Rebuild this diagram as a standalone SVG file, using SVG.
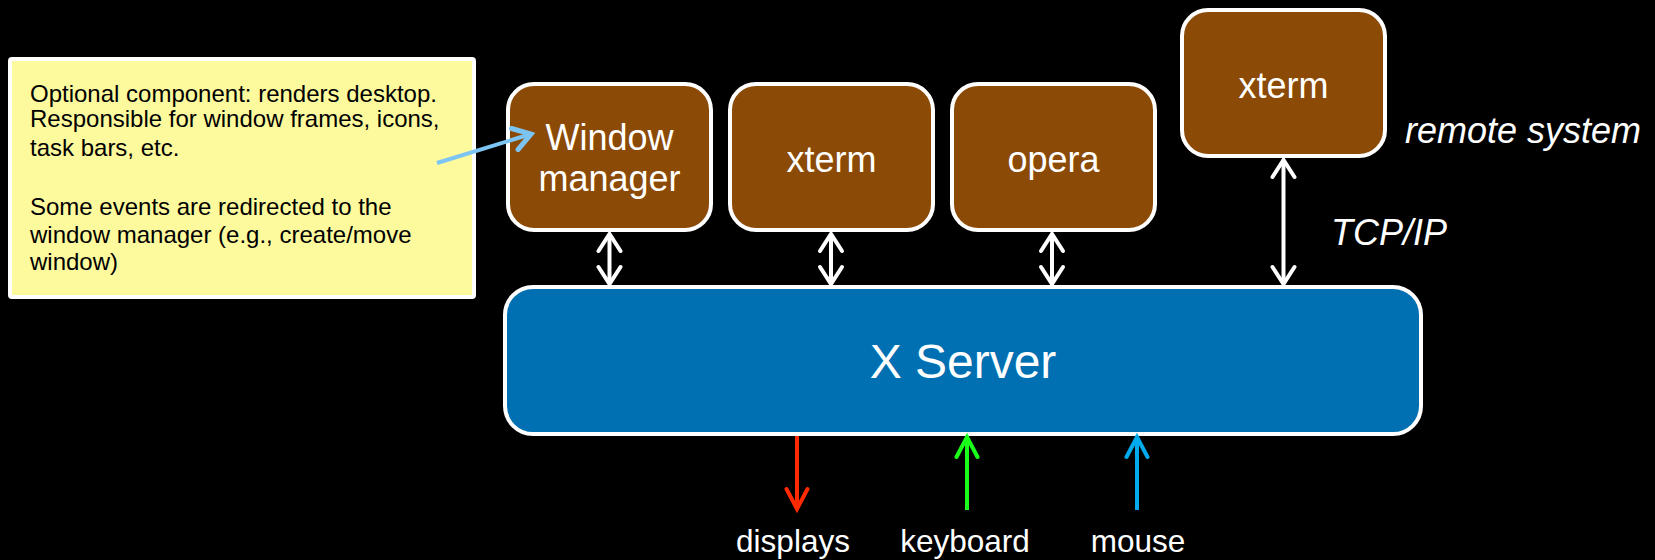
<svg xmlns="http://www.w3.org/2000/svg" width="1655" height="560" viewBox="0 0 1655 560">
  <style>
    text { font-family: "Liberation Sans", Arial, sans-serif; fill: #ffffff; }
    .box { fill: #8c4a07; stroke: #ffffff; stroke-width: 4; }
    .server { fill: #0070b2; stroke: #ffffff; stroke-width: 4; }
    .note { fill: #fdfa9e; stroke: #ffffff; stroke-width: 4; }
    .note-text { fill: #000000; font-size: 24px; }
    .label { font-size: 36px; text-anchor: middle; }
    .io { font-size: 31.5px; text-anchor: middle; }
    .ital { font-size: 36px; font-style: italic; }
    .link { fill: none; stroke-width: 4; }
  </style>
  <defs>
    <marker id="head-white" markerUnits="userSpaceOnUse" viewBox="-24 -14 28 28" refX="0" refY="0" markerWidth="28" markerHeight="28" orient="auto-start-reverse">
      <path d="M-17,-11 L0,0 L-17,11" fill="none" stroke="#ffffff" stroke-width="4" stroke-linecap="round"/>
    </marker>
    <marker id="head-red" markerUnits="userSpaceOnUse" viewBox="-24 -14 28 28" refX="0" refY="0" markerWidth="28" markerHeight="28" orient="auto">
      <path d="M-20,-10.5 L0,0 L-20,10.5" fill="none" stroke="#ff2a00" stroke-width="4" stroke-linecap="round"/>
    </marker>
    <marker id="head-green" markerUnits="userSpaceOnUse" viewBox="-24 -14 28 28" refX="0" refY="0" markerWidth="28" markerHeight="28" orient="auto">
      <path d="M-20,-10.5 L0,0 L-20,10.5" fill="none" stroke="#1aff1a" stroke-width="4" stroke-linecap="round"/>
    </marker>
    <marker id="head-cyan" markerUnits="userSpaceOnUse" viewBox="-24 -14 28 28" refX="0" refY="0" markerWidth="28" markerHeight="28" orient="auto">
      <path d="M-20,-10.5 L0,0 L-20,10.5" fill="none" stroke="#00aaef" stroke-width="4" stroke-linecap="round"/>
    </marker>
    <marker id="head-callout" markerUnits="userSpaceOnUse" viewBox="-24 -14 28 28" refX="0" refY="0" markerWidth="28" markerHeight="28" orient="auto">
      <path d="M-17,-11 L0,0 L-17,11" fill="none" stroke="#7cc5f2" stroke-width="5" stroke-linecap="round"/>
    </marker>
  </defs>

  <rect width="1655" height="560" fill="#000000"/>

  <!-- explanatory note -->
  <g id="note">
    <rect class="note" x="10" y="59" width="464" height="238" rx="2"/>
    <text class="note-text" x="30" y="101.5">Optional component: renders desktop.</text>
    <text class="note-text" x="30" y="126.5">Responsible for window frames, icons,</text>
    <text class="note-text" x="30" y="156">task bars, etc.</text>
    <text class="note-text" x="30" y="215">Some events are redirected to the</text>
    <text class="note-text" x="30" y="242.5">window manager (e.g., create/move</text>
    <text class="note-text" x="30" y="270">window)</text>
  </g>

  <!-- client boxes -->
  <g id="window-manager">
    <rect class="box" x="508" y="84" width="203" height="146" rx="26"/>
    <text class="label" x="609.5" y="150">Window</text>
    <text class="label" x="609.5" y="190.5">manager</text>
  </g>
  <g id="xterm-local">
    <rect class="box" x="730" y="84" width="203" height="146" rx="26"/>
    <text class="label" x="831.5" y="171.5">xterm</text>
  </g>
  <g id="opera">
    <rect class="box" x="952" y="84" width="203" height="146" rx="26"/>
    <text class="label" x="1053.5" y="171.5">opera</text>
  </g>
  <g id="xterm-remote">
    <rect class="box" x="1182" y="10" width="203" height="146" rx="26"/>
    <text class="label" x="1283.5" y="98">xterm</text>
    <text class="ital" x="1405" y="143">remote system</text>
  </g>

  <!-- server -->
  <g id="x-server">
    <rect class="server" x="505" y="287" width="916" height="147" rx="28"/>
    <text x="963" y="378" font-size="48" text-anchor="middle">X Server</text>
  </g>

  <!-- devices -->
  <g id="devices">
    <text class="io" x="793" y="552">displays</text>
    <text class="io" x="965" y="552">keyboard</text>
    <text class="io" x="1138" y="552">mouse</text>
  </g>

  <!-- connectors -->
  <g id="connectors">
    <line class="link" stroke="#ffffff" x1="609.5" y1="234" x2="609.5" y2="284" marker-start="url(#head-white)" marker-end="url(#head-white)"/>
    <line class="link" stroke="#ffffff" x1="831" y1="234" x2="831" y2="284" marker-start="url(#head-white)" marker-end="url(#head-white)"/>
    <line class="link" stroke="#ffffff" x1="1052" y1="234" x2="1052" y2="284" marker-start="url(#head-white)" marker-end="url(#head-white)"/>
    <line class="link" stroke="#ffffff" x1="1283.5" y1="160" x2="1283.5" y2="284" marker-start="url(#head-white)" marker-end="url(#head-white)"/>
    <text class="ital" x="1331" y="245">TCP/IP</text>
    <line class="link" stroke="#ff2a00" x1="797" y1="436" x2="797" y2="509" marker-end="url(#head-red)"/>
    <line class="link" stroke="#1aff1a" x1="967" y1="510" x2="967" y2="437" marker-end="url(#head-green)"/>
    <line class="link" stroke="#00aaef" x1="1137" y1="510" x2="1137" y2="437" marker-end="url(#head-cyan)"/>
    <line class="link" stroke="#7cc5f2" stroke-width="5" x1="437" y1="163" x2="531" y2="134" marker-end="url(#head-callout)"/>
  </g>
</svg>
